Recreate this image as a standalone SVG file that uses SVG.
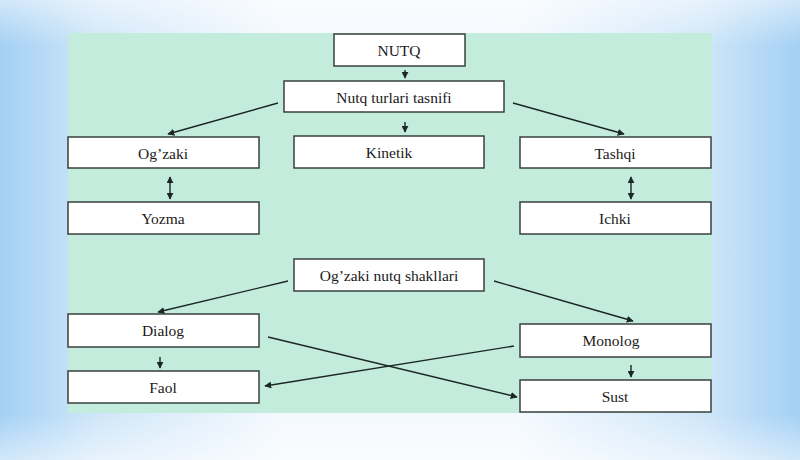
<svg xmlns="http://www.w3.org/2000/svg" width="800" height="460" viewBox="0 0 800 460">
<defs>
<linearGradient id="bgH" x1="0" y1="0" x2="1" y2="0">
<stop offset="0" stop-color="#a3d0f4"/>
<stop offset="0.12" stop-color="#cfe6f9"/>
<stop offset="0.35" stop-color="#f4f9fe"/>
<stop offset="0.65" stop-color="#f4f9fe"/>
<stop offset="0.88" stop-color="#cfe6f9"/>
<stop offset="1" stop-color="#a3d0f4"/>
</linearGradient>
<linearGradient id="bgV" x1="0" y1="0" x2="0" y2="1">
<stop offset="0" stop-color="#ffffff" stop-opacity="0.5"/>
<stop offset="0.1" stop-color="#ffffff" stop-opacity="0"/>
<stop offset="0.9" stop-color="#ffffff" stop-opacity="0"/>
<stop offset="1" stop-color="#ffffff" stop-opacity="0.5"/>
</linearGradient>
<marker id="ah" viewBox="0 0 10 10" refX="9" refY="5" markerWidth="7" markerHeight="7" markerUnits="userSpaceOnUse" orient="auto-start-reverse">
<path d="M0,0 L10,5 L0,10 z" fill="#1c2626"/>
</marker>
<style>
.box{fill:#ffffff;stroke:#3a3f3f;stroke-width:1.5}
.lbl{font-family:"Liberation Serif","Times New Roman",serif;font-size:15.5px;fill:#1a1a1a;text-anchor:middle;dominant-baseline:central}
.con{stroke:#1c2626;stroke-width:1.4;fill:none}
</style>
</defs>
<rect x="0" y="0" width="800" height="460" fill="url(#bgH)"/>
<rect x="0" y="0" width="800" height="460" fill="url(#bgV)"/>
<rect x="68" y="33" width="644" height="380" fill="#c4ecdd"/>

<g id="connectors">
<path class="con" d="M405,70 L405,78" marker-end="url(#ah)"/>
<path class="con" d="M278,103 L168,134" marker-end="url(#ah)"/>
<path class="con" d="M405,122 L405,132" marker-end="url(#ah)"/>
<path class="con" d="M513,103 L624,134" marker-end="url(#ah)"/>
<path class="con" d="M170,177 L170,199" marker-start="url(#ah)" marker-end="url(#ah)"/>
<path class="con" d="M631,177 L631,199" marker-start="url(#ah)" marker-end="url(#ah)"/>
<path class="con" d="M288,281 L158,312" marker-end="url(#ah)"/>
<path class="con" d="M494,281 L633,321" marker-end="url(#ah)"/>
<path class="con" d="M160,357 L160,368" marker-end="url(#ah)"/>
<path class="con" d="M631,365 L631,377" marker-end="url(#ah)"/>
<path class="con" d="M268,337 L517,397" marker-end="url(#ah)"/>
<path class="con" d="M514,346 L265,386" marker-end="url(#ah)"/>
</g>

<g id="nutq"><rect class="box" x="334" y="34" width="131" height="32"/><text class="lbl" x="399" y="50">NUTQ</text></g>
<g id="tasnif"><rect class="box" x="284" y="81" width="220" height="31"/><text class="lbl" x="394" y="97">Nutq turlari tasnifi</text></g>
<g id="ogzaki"><rect class="box" x="68" y="137" width="191" height="31"/><text class="lbl" x="163" y="153">Og’zaki</text></g>
<g id="kinetik"><rect class="box" x="294" y="136" width="190" height="32"/><text class="lbl" x="389" y="152">Kinetik</text></g>
<g id="tashqi"><rect class="box" x="520" y="137" width="191" height="31"/><text class="lbl" x="615" y="153">Tashqi</text></g>
<g id="yozma"><rect class="box" x="68" y="202" width="191" height="32"/><text class="lbl" x="163" y="218">Yozma</text></g>
<g id="ichki"><rect class="box" x="520" y="202" width="191" height="32"/><text class="lbl" x="615" y="218">Ichki</text></g>
<g id="shakllar"><rect class="box" x="294" y="259" width="190" height="32"/><text class="lbl" x="389" y="275">Og’zaki nutq shakllari</text></g>
<g id="dialog"><rect class="box" x="68" y="314" width="191" height="33"/><text class="lbl" x="163" y="330">Dialog</text></g>
<g id="monolog"><rect class="box" x="520" y="324" width="191" height="33"/><text class="lbl" x="611" y="340">Monolog</text></g>
<g id="faol"><rect class="box" x="68" y="371" width="191" height="32"/><text class="lbl" x="163" y="387">Faol</text></g>
<g id="sust"><rect class="box" x="520" y="380" width="191" height="32"/><text class="lbl" x="615" y="396">Sust</text></g>
</svg>
